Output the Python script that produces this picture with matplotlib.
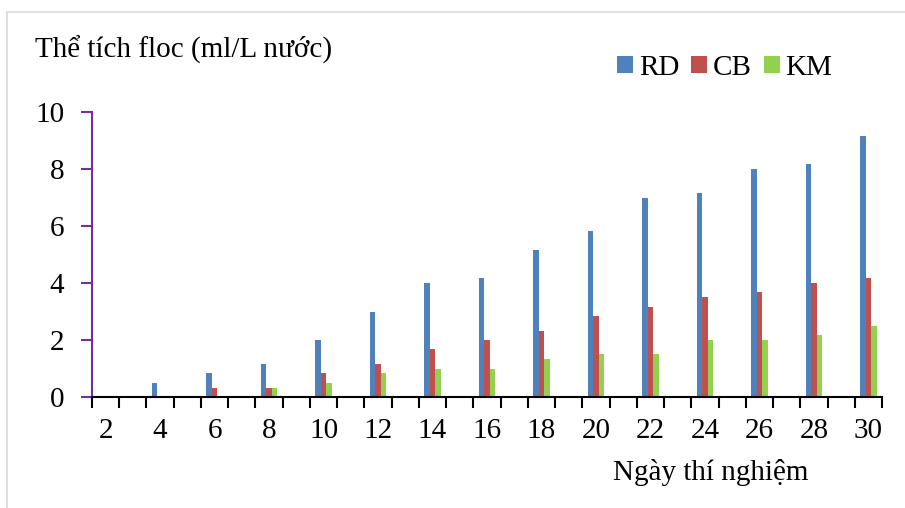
import numpy as np
import matplotlib

matplotlib.use("Agg")
import matplotlib.pyplot as plt
from matplotlib.patches import Rectangle

# data: floc volume (ml/L) by experiment day
days = [2, 4, 6, 8, 10, 12, 14, 16, 18, 20, 22, 24, 26, 28, 30]
rd = [0, 0.5, 0.83, 1.17, 2.0, 3.0, 4.0, 4.17, 5.17, 5.83, 7.0, 7.17, 8.0, 8.17, 9.17]
cb = [0, 0, 0.33, 0.33, 0.83, 1.17, 1.67, 2.0, 2.33, 2.83, 3.17, 3.5, 3.67, 4.0, 4.17]
km = [0, 0, 0, 0.33, 0.5, 0.83, 1.0, 1.0, 1.33, 1.5, 1.5, 2.0, 2.0, 2.17, 2.5]
series = [("RD", rd, "#4F81BD"), ("CB", cb, "#C0504D"), ("KM", km, "#92D050")]

plt.rcParams["font.family"] = ["Liberation Serif", "DejaVu Serif"]
FS = 21
PURPLE = "#7030A0"

fig = plt.figure(figsize=(9.05, 5.08), dpi=100)
ax = fig.add_axes([92 / 905, 111 / 508, 790 / 905, 285 / 508])

x = np.array(days, dtype=float)
w = 0.2
for i, (name, vals, col) in enumerate(series):
    ax.bar(x + (i - 1) * w, vals, width=w, color=col, label=name, linewidth=0)

ax.set_xlim(1.5, 30.5)
ax.set_ylim(0, 10)
ax.set_yticks(range(0, 11, 2))
ax.set_xticks(days)
ax.set_xticks(np.arange(1.5, 31, 1), minor=True)
ax.tick_params(axis="x", which="major", length=0, pad=15, labelsize=FS)
ax.tick_params(axis="x", which="minor", length=8, width=1.5, color="black")
ax.tick_params(axis="y", length=8, width=1.5, color=PURPLE, pad=12, labelsize=FS)

for s in ("top", "right"):
    ax.spines[s].set_visible(False)
ax.spines["left"].set_color(PURPLE)
ax.spines["left"].set_linewidth(1.5)
ax.spines["bottom"].set_linewidth(1.5)

fig.text(35 / 905, 1 - 50 / 508, "Thể tích floc (ml/L nước)", fontsize=FS,
         ha="left", va="center")
fig.text(711 / 905, 1 - 473 / 508, "Ngày thí nghiệm", fontsize=FS,
         ha="center", va="center")

fig.legend(loc="center", bbox_to_anchor=(725 / 905, 1 - 68 / 508), ncol=3,
           frameon=False, fontsize=FS, handlelength=0.55, handleheight=0.55,
           handletextpad=0.2, columnspacing=0.4, borderpad=0)

# light gray chart border (clipped by the image edge)
fig.patches.append(Rectangle((7 / 905, -0.1), 1.0, 1 - 12 / 508 + 0.1,
                             transform=fig.transFigure, fill=False,
                             edgecolor="#D9D9D9", linewidth=1.2))

fig.savefig("out.png", dpi=100)
